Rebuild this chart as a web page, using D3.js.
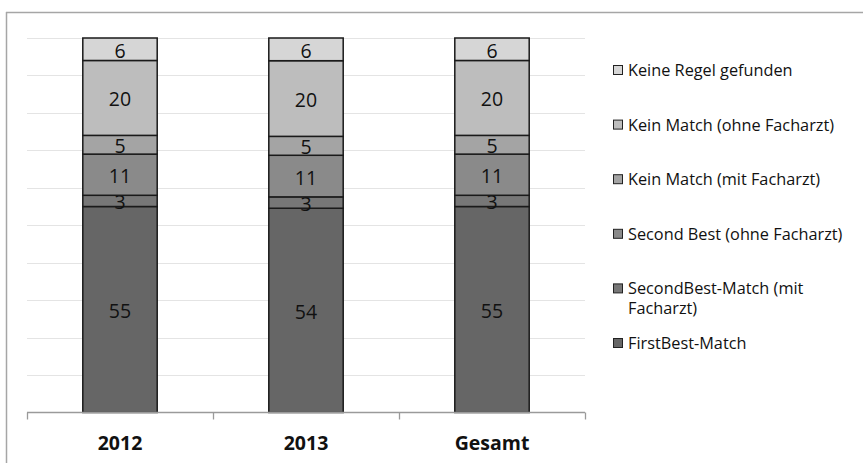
<!DOCTYPE html>
<html>
<head>
<meta charset="utf-8">
<script src="https://cdn.jsdelivr.net/npm/d3@7"></script>
<style>
  html, body { margin: 0; padding: 0; background: #fff; }
  svg { display: block; font-family: "Open Sans", Lato, sans-serif; }
</style>
</head>
<body>
<svg id="chart" width="863" height="463"></svg>
<script>
// Kategorien (x-Achse)
const categories = ["2012", "2013", "Gesamt"];

// Serien von unten nach oben gestapelt
const seriesNames = [
  "FirstBest-Match",
  "SecondBest-Match (mit Facharzt)",
  "Second Best (ohne Facharzt)",
  "Kein Match (mit Facharzt)",
  "Kein Match (ohne Facharzt)",
  "Keine Regel gefunden"
];

// Werte je Serie (Prozent, je Kategorie)
const firstBest      = [55, 54, 55];
const secondBestMit  = [3, 3, 3];
const secondBestOhne = [11, 11, 11];
const keinMatchMit   = [5, 5, 5];
const keinMatchOhne  = [20, 20, 20];
const keineRegel     = [6, 6, 6];

const seriesValues = [firstBest, secondBestMit, secondBestOhne, keinMatchMit, keinMatchOhne, keineRegel];
const seriesColors = ["#666666", "#777777", "#8a8a8a", "#a4a4a4", "#bdbdbd", "#d6d6d6"];

// Legendenbeschriftung (Zeilenumbruch wie dargestellt)
const legendLines = {
  "SecondBest-Match (mit Facharzt)": ["SecondBest-Match (mit", "Facharzt)"]
};

const rows = categories.map((c, i) => {
  const r = { cat: c };
  seriesNames.forEach((s, j) => { r[s] = seriesValues[j][i]; });
  return r;
});

const svg = d3.select("#chart");

// Rahmen des Diagrammbereichs
svg.append("line").attr("x1", 6).attr("x2", 863).attr("y1", 12.5).attr("y2", 12.5)
  .attr("stroke", "#a6a6a6").attr("stroke-width", 1.5);
svg.append("line").attr("x1", 6.5).attr("x2", 6.5).attr("y1", 12).attr("y2", 463)
  .attr("stroke", "#a6a6a6").attr("stroke-width", 1.5);

const x = d3.scaleBand().domain(categories).range([27, 585]).paddingInner(0.6).paddingOuter(0.3);
const y = d3.scaleLinear().domain([0, 1]).range([412.5, 38]);

// Hilfslinien
svg.append("g").selectAll("line").data(d3.range(1, 11).map(d => d / 10)).join("line")
  .attr("x1", 27).attr("x2", 585)
  .attr("y1", d => Math.round(y(d)) + 0.5).attr("y2", d => Math.round(y(d)) + 0.5)
  .attr("stroke", "#e4e4e4").attr("stroke-width", 1.2);

const stack = d3.stack().keys(seriesNames).offset(d3.stackOffsetExpand);
const stacked = stack(rows);

const layers = svg.append("g").selectAll("g").data(stacked).join("g")
  .attr("fill", (d, i) => seriesColors[i]);

layers.selectAll("rect").data(d => d).join("rect")
  .attr("x", d => x(d.data.cat))
  .attr("width", x.bandwidth())
  .attr("y", d => y(d[1]))
  .attr("height", d => y(d[0]) - y(d[1]))
  .attr("stroke", "#1a1a1a").attr("stroke-width", 1.5);

// Werte in den Segmenten
layers.each(function (layer) {
  d3.select(this).selectAll("text").data(layer).join("text")
    .attr("x", d => x(d.data.cat) + x.bandwidth() / 2)
    .attr("y", d => (y(d[0]) + y(d[1])) / 2 + 1)
    .attr("text-anchor", "middle")
    .attr("dominant-baseline", "central")
    .attr("fill", "#111")
    .attr("font-size", 19.5)
    .text(d => d.data[layer.key]);
});

// x-Achse
const xAxis = d3.axisBottom(x).tickSize(0).tickPadding(0);
const ax = svg.append("g").attr("transform", "translate(0,412.5)");
ax.append("line").attr("x1", 27).attr("x2", 585).attr("stroke", "#9a9a9a").attr("stroke-width", 1.3);
ax.selectAll("line.tick").data([0, 1, 2, 3]).join("line").attr("class", "tick")
  .attr("x1", d => Math.round(27 + d * x.step()) + 0.5)
  .attr("x2", d => Math.round(27 + d * x.step()) + 0.5)
  .attr("y1", 0).attr("y2", 7)
  .attr("stroke", "#9a9a9a").attr("stroke-width", 1.3);
const axG = svg.append("g").attr("transform", "translate(0,412.5)").call(xAxis);
axG.select(".domain").remove();
axG.selectAll("text")
  .attr("dy", null)
  .attr("y", 30)
  .attr("dominant-baseline", "central")
  .attr("font-size", 19.5)
  .attr("font-weight", "bold")
  .attr("fill", "#111")
  .attr("font-family", "'Open Sans', Lato, sans-serif");

// Legende (oberster Stapel zuerst)
const legendOrder = seriesNames.map((s, i) => ({ name: s, color: seriesColors[i] })).reverse();
const lg = svg.append("g").selectAll("g").data(legendOrder).join("g")
  .attr("transform", (d, i) => `translate(613,${70 + i * 54.6})`);
lg.append("rect").attr("x", 0.5).attr("y", -4.5).attr("width", 9).attr("height", 9)
  .attr("fill", d => d.color).attr("stroke", "#222").attr("stroke-width", 1);
lg.each(function (d) {
  const lines = legendLines[d.name] || [d.name];
  d3.select(this).selectAll("text").data(lines).join("text")
    .attr("x", 15).attr("y", (t, k) => k * 20)
    .attr("dominant-baseline", "central")
    .attr("font-size", 16.3)
    .attr("fill", "#111")
    .text(t => t);
});
</script>
</body>
</html>
